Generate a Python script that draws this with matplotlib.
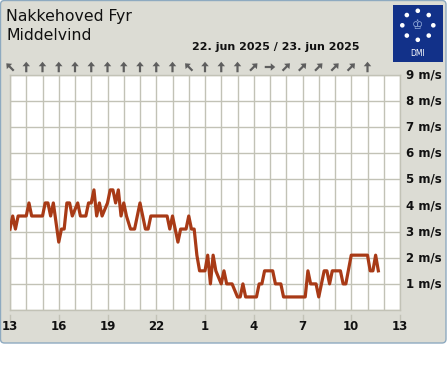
import matplotlib
matplotlib.use('Agg')
import matplotlib.pyplot as plt
import matplotlib.patches as mpatches
import matplotlib.transforms as mtransforms
import numpy as np

W, H = 447, 370

# observations: minutes after 13:00 on 22 jun, mean wind in m/s
minutes = [0, 10, 20, 30, 60, 70, 80, 120, 130, 140, 150, 160, 180, 190, 200,
           210, 220, 230, 250, 260, 280, 290, 300, 310, 320, 330, 340, 360,
           370, 380, 390, 400, 410, 420, 430, 445, 460, 480, 500, 510, 520,
           580, 590, 600, 620, 630, 650, 660, 670, 680, 690, 700, 720, 730,
           740, 750, 760, 780, 790, 800, 820, 840, 850, 860, 870, 910, 920,
           930, 940, 970, 980, 1000, 1010, 1090, 1100, 1110, 1130, 1140, 1150,
           1160, 1170, 1180, 1190, 1220, 1230, 1240, 1260, 1320, 1330, 1340,
           1350, 1360]
speed = [3.1, 3.6, 3.1, 3.6, 3.6, 4.1, 3.6, 3.6, 4.1, 4.1, 3.6, 4.1, 2.6, 3.1, 3.1,
         4.1, 4.1, 3.6, 4.1, 3.6, 3.6, 4.1, 4.1, 4.6, 3.6, 4.1, 3.6, 4.1,
         4.6, 4.6, 4.1, 4.6, 3.6, 4.1, 3.6, 3.1, 3.1, 4.1, 3.1, 3.1, 3.6,
         3.6, 3.1, 3.6, 2.6, 3.1, 3.1, 3.6, 3.1, 3.1, 2.1, 1.5, 1.5, 2.1,
         1.0, 2.1, 1.5, 1.0, 1.5, 1.0, 1.0, 0.5, 0.5, 1.0, 0.5, 0.5, 1.0,
         1.0, 1.5, 1.5, 1.0, 1.0, 0.5, 0.5, 1.5, 1.0, 1.0, 0.5, 1.0,
         1.5, 1.5, 1.0, 1.5, 1.5, 1.0, 1.0, 2.1, 2.1, 1.5, 1.5,
         2.1, 1.5]

# wind direction arrows, one per hour from 13:00
arrow_dirs = ['NW', 'N', 'N', 'N', 'N', 'N', 'N', 'N', 'N', 'N', 'N', 'NW',
              'N', 'N', 'N', 'NE', 'E', 'NE', 'NE', 'NE', 'NE', 'NE', 'N']
hour_labels = ['13', '16', '19', '22', '1', '4', '7', '10', '13']
y_labels = ['%d m/s' % v for v in range(1, 10)]

title = 'Nakkehoved Fyr'
subtitle = 'Middelvind'
date_text = '22. jun 2025 / 23. jun 2025'

panel_col = '#dcdcd4'
grid_col = '#c2c2b6'
line_col = '#a83a16'
arrow_col = '#5e5e5e'

fig = plt.figure(figsize=(W / 100, H / 100), dpi=100)
fig.patch.set_facecolor('white')
px = mtransforms.IdentityTransform()

# grey panel behind everything
panel = mpatches.FancyBboxPatch((0.5, H - 343), 445.5, 342.5,
                                boxstyle='round,pad=0,rounding_size=4',
                                transform=px, facecolor=panel_col,
                                edgecolor='#8eaac0', linewidth=1.0, zorder=0)
fig.add_artist(panel)

ax = fig.add_axes([10 / W, 1 - 310 / H, 390 / W, 235 / H])
ax.set_facecolor('white')
for s in ax.spines.values():
    s.set_color(grid_col)
    s.set_linewidth(1.0)

x = np.array(minutes) / 60.0
ax.plot(x, speed, color=line_col, lw=2.3, zorder=3)

ax.set_xlim(0, 24)
ax.set_ylim(0, 9)
ax.set_xticks(np.arange(0, 25, 1))
ax.set_yticks(np.arange(0, 10, 1))
ax.grid(True, color=grid_col, lw=1.0)
ax.tick_params(length=0, labelbottom=False, labelleft=False)

# x tick marks and labels every 3 hours
xt = ax.get_xaxis_transform()
for i, lab in enumerate(hour_labels):
    ax.plot([i * 3, i * 3], [-0.021, -0.043], transform=xt, color=grid_col,
            lw=1.0, clip_on=False)
    ax.text(i * 3, -0.07, lab, transform=xt, ha='center', va='center',
            fontsize=8.5, fontweight='bold', color='#111111')

# right side labels
yt = ax.get_yaxis_transform()
for i, lab in enumerate(y_labels):
    ax.text(1.0155, i + 1, lab, transform=yt, ha='left', va='center',
            fontsize=8.5, fontweight='bold', color='#111111')

# direction arrows above the plot, drawn in pixels
fig.canvas.draw()
ang = {'N': 90, 'NW': 135, 'NE': 45, 'E': 0}
for h, d in enumerate(arrow_dirs):
    cxp, _ = ax.transData.transform((h, 0))
    cyp = H - 67
    a = np.radians(ang[d])
    L = 10.5
    dx, dy = L * np.cos(a), L * np.sin(a)
    fig.add_artist(mpatches.FancyArrow(cxp - dx / 2, cyp - dy / 2, dx, dy,
                                       width=2.2, head_width=7.5,
                                       head_length=4.5,
                                       length_includes_head=True,
                                       transform=px, color=arrow_col,
                                       lw=0, zorder=3))

# titles
fig.text(6 / W, 1 - 21 / H, title, fontsize=11.3, color='#111111',
         ha='left', va='baseline')
fig.text(6 / W, 1 - 39.5 / H, subtitle, fontsize=11.3, color='#111111',
         ha='left', va='baseline')
fig.text(276 / W, 1 - 50 / H, date_text, fontsize=8, fontweight='bold',
         color='#111111', ha='center', va='baseline')

# DMI logo
logo = mpatches.Rectangle((393, H - 61.5), 50, 56.5, transform=px,
                          facecolor='#123189', edgecolor='none', zorder=2)
fig.add_artist(logo)
cx, cy = 417.8, H - 25.3
for k in range(8):
    a = np.pi / 2 - k * np.pi / 4
    fig.add_artist(mpatches.Circle((cx + 15.5 * np.cos(a), cy + 14.5 * np.sin(a)),
                                   2.3, transform=px, facecolor='white',
                                   edgecolor='none', zorder=3))
fig.text(cx / W, cy / H, '\u2654', fontsize=9, color='#9fb6e0',
         ha='center', va='center', zorder=4)
fig.text(cx / W, 1 - 54 / H, 'DMI', fontsize=5.5, color='white',
         ha='center', va='center', zorder=4)

fig.savefig('out.png', dpi=100)
